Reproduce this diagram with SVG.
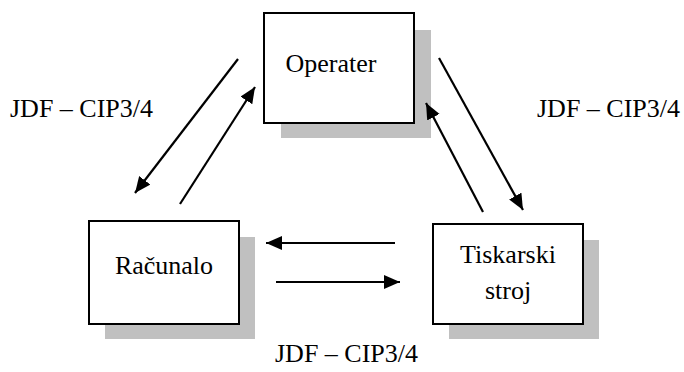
<svg xmlns="http://www.w3.org/2000/svg" width="684" height="372" viewBox="0 0 684 372">
<style>
.shadow{fill:#c0c0c0;stroke:none}
.box{fill:#fff;stroke:#000;stroke-width:2}
.t{font-family:'Liberation Serif','Times New Roman',Times,'DejaVu Serif',serif;font-size:26px;fill:#000}
.c{stroke:#000;stroke-width:2.2;fill:none;marker-end:url(#ah)}
</style>
<defs>
<marker id="ah" markerUnits="userSpaceOnUse" markerWidth="18" markerHeight="16" refX="16" refY="7" orient="auto">
<path d="M0,0 L16,7 L0,14 Z" fill="#000"/>
</marker>
</defs>
<rect width="684" height="372" fill="#fff"/>
<g id="operater">
<rect class="shadow" x="281" y="30" width="150" height="108"/>
<rect class="box" x="264" y="13" width="150" height="110"/>
<text class="t" x="331" y="72" text-anchor="middle" font-family="Liberation Serif, serif">Operater</text>
</g>
<g id="racunalo">
<rect class="shadow" x="105" y="237" width="150" height="102"/>
<rect class="box" x="89" y="221" width="150" height="103"/>
<text class="t" x="164" y="274" text-anchor="middle">Računalo</text>
</g>
<g id="tiskarski">
<rect class="shadow" x="449" y="240" width="150" height="99"/>
<rect class="box" x="433" y="224" width="150" height="100"/>
<text class="t" x="508" y="263" text-anchor="middle">Tiskarski</text>
<text class="t" x="508" y="299" text-anchor="middle">stroj</text>
</g>
<g id="connectors">
<line class="c" x1="238" y1="59" x2="135" y2="193"/>
<line class="c" x1="180" y1="204" x2="255" y2="87"/>
<line class="c" x1="439" y1="58" x2="523" y2="210"/>
<line class="c" x1="483" y1="212" x2="426" y2="103"/>
<line class="c" x1="395" y1="243" x2="266" y2="243"/>
<line class="c" x1="276" y1="282" x2="400" y2="282"/>
</g>
<g id="labels">
<text class="t" x="10" y="117">JDF – CIP3/4</text>
<text class="t" x="537" y="117">JDF – CIP3/4</text>
<text class="t" x="275" y="362">JDF – CIP3/4</text>
</g>
</svg>
